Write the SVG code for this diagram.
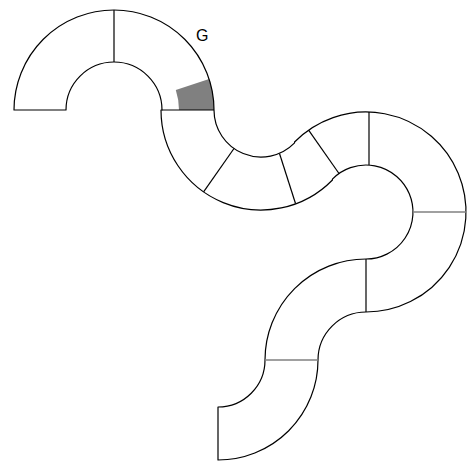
<svg xmlns="http://www.w3.org/2000/svg" width="474" height="464" viewBox="0 0 474 464">
<style>
.edge{fill:none;stroke:#000;stroke-width:1.2;stroke-linejoin:round}
.div{stroke:#000;stroke-width:1.2}
.div2{stroke:#808080;stroke-width:1.6}
.lbl{font-family:"Liberation Sans",Arial,sans-serif;font-size:16px;fill:#000}
</style>
<rect width="474" height="464" fill="#fff"/>
<g id="marker-square">
<path d="M175.8,89.9 L209.1,79.1 A100,100 0 0 1 214,110 L179,110 A65,65 0 0 0 175.8,89.9 Z" fill="#808080"/>
</g>
<g id="track">
<path class="edge" d="M14,110 A100,100 0 0 1 114,10 A100,100 0 0 1 214,110 A47,47 0 0 0 294.6,142.9 L294.55,142.03 A100,100 0 1 1 366,312 A48,48 0 0 0 318,360 A100,100 0 0 1 218,460 L218,407 A47,47 0 0 0 265,360 A101,101 0 0 1 366,259 A47,47 0 1 0 332.4,179.1 L332.45,179.97 A100,100 0 0 1 161,110 L162,110 A48,48 0 0 0 114,62 A48,48 0 0 0 66,110 Z"/>
</g>
<g id="connectors">
<line class="div" x1="114" y1="10" x2="114" y2="62"/>
<line class="div" x1="162" y1="110" x2="214" y2="110"/>
<line class="div" x1="234" y1="148.5" x2="203.6" y2="191.9"/>
<line class="div" x1="279.5" y1="153.5" x2="295.5" y2="203.5"/>
<line class="div" x1="339" y1="173.5" x2="308.6" y2="130.1"/>
<line class="div" x1="369" y1="112" x2="369" y2="165"/>
<line class="div2" x1="413" y1="212" x2="466" y2="212"/>
<line class="div" x1="366" y1="259" x2="366" y2="312"/>
<line class="div2" x1="265" y1="360" x2="318" y2="360"/>
</g>
<g id="label-G">
<text class="lbl" x="196" y="40.5">G</text>
</g>
</svg>
